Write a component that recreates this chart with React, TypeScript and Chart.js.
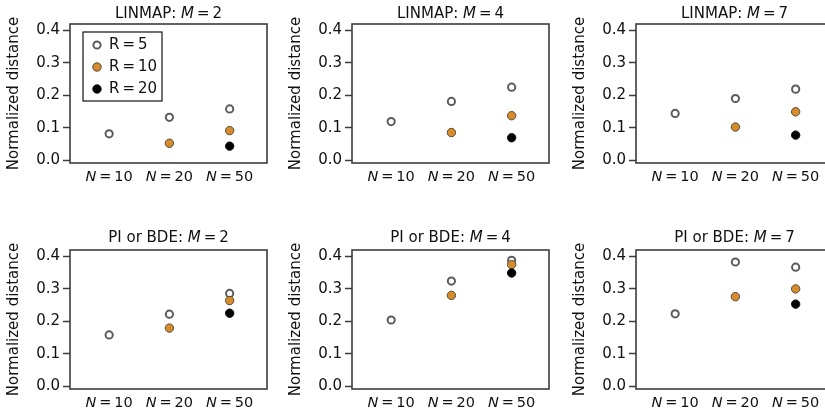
import React, { useEffect, useRef } from "react";
import { Chart, registerables } from "chart.js";

Chart.register(...registerables);

// ---------------- data ----------------
const nLabels = ["10", "20", "50"];
const xPositions = [1, 2, 3];
const yTicks = [0, 0.1, 0.2, 0.3, 0.4];
const rLabels = ["5", "10", "20"];
const methods = ["LINMAP", "PI or BDE"];
const mValues = ["2", "4", "7"];

type Val = number | null;

const linmapM2R5: Val[] = [0.081, 0.132, 0.158];
const linmapM2R10: Val[] = [null, 0.052, 0.091];
const linmapM2R20: Val[] = [null, null, 0.043];

const linmapM4R5: Val[] = [0.119, 0.181, 0.225];
const linmapM4R10: Val[] = [null, 0.085, 0.137];
const linmapM4R20: Val[] = [null, null, 0.069];

const linmapM7R5: Val[] = [0.144, 0.19, 0.219];
const linmapM7R10: Val[] = [null, 0.102, 0.149];
const linmapM7R20: Val[] = [null, null, 0.077];

const piM2R5: Val[] = [0.158, 0.222, 0.286];
const piM2R10: Val[] = [null, 0.179, 0.264];
const piM2R20: Val[] = [null, null, 0.225];

const piM4R5: Val[] = [0.204, 0.324, 0.388];
const piM4R10: Val[] = [null, 0.28, 0.375];
const piM4R20: Val[] = [null, null, 0.349];

const piM7R5: Val[] = [0.223, 0.383, 0.367];
const piM7R10: Val[] = [null, 0.276, 0.3];
const piM7R20: Val[] = [null, null, 0.253];

// ---------------- styles ----------------
const FONT = '"DejaVu Sans", "Liberation Sans", sans-serif';
const PANEL_W = 283;
const PANEL_H = 187;
const COL_LEFT = [0, 282, 566];
const ROW_TOP = [0, 226];
const TITLE_GAP = [10, 12];

const seriesStyles = [
  { bg: "#ffffff", border: "#5c5c5c", bw: 2, r: 3.6, order: 2 },
  { bg: "#d68b2d", border: "#5a4a35", bw: 1, r: 4.2, order: 1 },
  { bg: "#000000", border: "#111111", bw: 1, r: 4.2, order: 0 },
];

type Run = { text: string; italic?: boolean };

function drawRuns(ctx: CanvasRenderingContext2D, runs: Run[], cx: number, cy: number, size: number) {
  const fonts = runs.map((r) => `${r.italic ? "italic " : ""}${size}px ${FONT}`);
  let total = 0;
  const widths = runs.map((r, i) => {
    ctx.font = fonts[i];
    const w = ctx.measureText(r.text).width;
    total += w;
    return w;
  });
  let x = cx - total / 2;
  ctx.textAlign = "left";
  ctx.textBaseline = "middle";
  runs.forEach((r, i) => {
    ctx.font = fonts[i];
    ctx.fillText(r.text, x, cy);
    x += widths[i];
  });
}

const decorPlugin = {
  id: "decor",
  beforeDatasetsDraw(chart: any, _args: any, opts: any) {
    const { ctx, chartArea: a } = chart;
    ctx.save();
    ctx.strokeStyle = "#3c3c3c";
    ctx.lineWidth = 1.6;
    ctx.strokeRect(a.left, a.top, a.right - a.left, a.bottom - a.top);
    ctx.fillStyle = "#111111";
    drawRuns(
      ctx,
      [{ text: opts.method + ": " }, { text: "M", italic: true }, { text: "\u2009=\u2009" + opts.m }],
      (a.left + a.right) / 2,
      a.top - opts.titleGap,
      15
    );
    const xs = chart.scales.x;
    nLabels.forEach((lab, i) => {
      drawRuns(
        ctx,
        [{ text: "N", italic: true }, { text: "\u2009=\u2009" + lab }],
        xs.getPixelForValue(xPositions[i]),
        177,
        14.5
      );
    });
    ctx.translate(14, (a.top + a.bottom) / 2);
    ctx.rotate(-Math.PI / 2);
    ctx.font = `15px ${FONT}`;
    ctx.textAlign = "center";
    ctx.textBaseline = "middle";
    ctx.fillText("Normalized distance", 0, 0);
    ctx.restore();
  },
  afterDatasetsDraw(chart: any, _args: any, opts: any) {
    if (!opts.legend) return;
    const { ctx, chartArea: a } = chart;
    ctx.save();
    const bx = a.left + 13;
    const by = a.top + 8;
    ctx.fillStyle = "#ffffff";
    ctx.fillRect(bx, by, 79, 69);
    ctx.strokeStyle = "#111111";
    ctx.lineWidth = 1.2;
    ctx.strokeRect(bx, by, 79, 69);
    chart.data.datasets.forEach((ds: any, i: number) => {
      const cy = by + 13 + i * 22;
      ctx.beginPath();
      ctx.arc(bx + 14, cy, ds.pointRadius, 0, Math.PI * 2);
      ctx.fillStyle = ds.backgroundColor;
      ctx.fill();
      ctx.lineWidth = ds.borderWidth;
      ctx.strokeStyle = ds.borderColor;
      ctx.stroke();
      ctx.fillStyle = "#111111";
      ctx.font = `15px ${FONT}`;
      ctx.textAlign = "left";
      ctx.textBaseline = "middle";
      ctx.fillText(ds.label, bx + 26, cy);
    });
    ctx.restore();
  },
};

type PanelProps = {
  method: string;
  m: string;
  series: Val[][];
  legend: boolean;
  left: number;
  top: number;
  titleGap: number;
};

function Panel({ method, m, series, legend, left, top, titleGap }: PanelProps) {
  const ref = useRef<HTMLCanvasElement | null>(null);
  useEffect(() => {
    if (!ref.current) return;
    const datasets = series.map((vals, si) => {
      const st = seriesStyles[si];
      return {
        label: "R\u2009=\u2009" + rLabels[si],
        data: vals
          .map((v, i) => (v === null ? null : { x: xPositions[i], y: v }))
          .filter((p) => p !== null) as { x: number; y: number }[],
        backgroundColor: st.bg,
        borderColor: st.border,
        borderWidth: st.bw,
        pointRadius: st.r,
        pointHoverRadius: st.r,
        order: st.order,
      };
    });
    const chart = new Chart(ref.current, {
      type: "scatter",
      data: { datasets },
      plugins: [decorPlugin as any],
      options: {
        animation: false,
        responsive: false,
        events: [],
        layout: { padding: { left: 0, top: 24, right: PANEL_W - 267, bottom: PANEL_H - 163 } },
        plugins: {
          legend: { display: false },
          tooltip: { enabled: false },
          title: { display: false },
          decor: { method, m, legend, titleGap } as any,
        } as any,
        scales: {
          x: { type: "linear", min: 0.35, max: 3.62, display: false },
          y: {
            type: "linear",
            min: -0.009,
            max: 0.42,
            afterBuildTicks: (s: any) => {
              s.ticks = yTicks.map((v) => ({ value: v }));
            },
            afterFit: (s: any) => {
              s.width = 70;
            },
            border: { display: false },
            grid: {
              drawOnChartArea: false,
              drawTicks: true,
              tickLength: 7,
              tickColor: "#3c3c3c",
              tickWidth: 1.5,
            },
            ticks: {
              padding: 3,
              color: "#111111",
              font: { family: FONT, size: 15 },
              callback: (v: any) => Number(v).toFixed(1),
            },
          },
        },
      },
    });
    return () => chart.destroy();
  }, []);
  return (
    <canvas
      ref={ref}
      width={PANEL_W}
      height={PANEL_H}
      style={{ position: "absolute", left, top, width: PANEL_W, height: PANEL_H }}
    />
  );
}

const panelSeries: Val[][][][] = [
  [
    [linmapM2R5, linmapM2R10, linmapM2R20],
    [linmapM4R5, linmapM4R10, linmapM4R20],
    [linmapM7R5, linmapM7R10, linmapM7R20],
  ],
  [
    [piM2R5, piM2R10, piM2R20],
    [piM4R5, piM4R10, piM4R20],
    [piM7R5, piM7R10, piM7R20],
  ],
];

export default function App() {
  return (
    <div
      style={{
        position: "fixed",
        left: 0,
        top: 0,
        width: 825,
        height: 413,
        overflow: "hidden",
        background: "#ffffff",
      }}
    >
      {methods.map((method, ri) =>
        mValues.map((m, ci) => (
          <Panel
            key={`${ri}-${ci}`}
            method={method}
            m={m}
            series={panelSeries[ri][ci]}
            legend={ri === 0 && ci === 0}
            left={COL_LEFT[ci]}
            top={ROW_TOP[ri]}
            titleGap={TITLE_GAP[ri]}
          />
        ))
      )}
    </div>
  );
}
